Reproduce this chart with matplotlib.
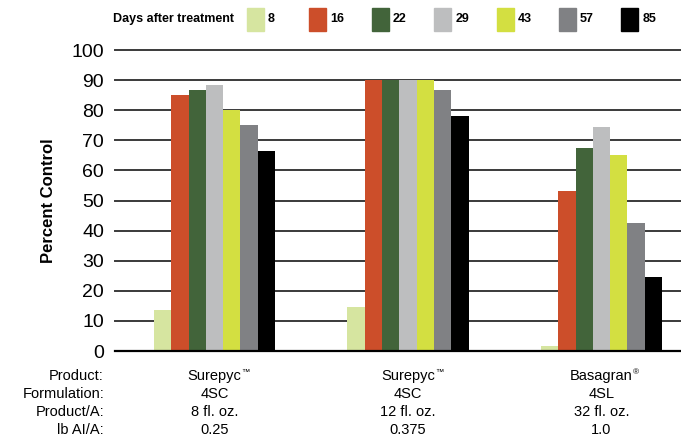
import numpy as np
import matplotlib.pyplot as plt
from matplotlib.patches import Rectangle

plt.rcParams['font.family'] = ['Liberation Sans', 'DejaVu Sans']

days = ['8', '16', '22', '29', '43', '57', '85']
colors = ['#d6e5a0', '#cc4e2a', '#42643a', '#bdbebf', '#d3df41', '#808184', '#000000']

products = ['Surepyc', 'Surepyc', 'Basagran']
marks = ['™', '™', '®']
formulation = ['4SC', '4SC', '4SL']
rate = ['8 fl. oz.', '12 fl. oz.', '32 fl. oz.']
lb_ai = ['0.25', '0.375', '1.0']

# percent control, one list per days-after-treatment
control = {
    '8':  [13.6, 14.6, 1.5],
    '16': [85, 90, 53],
    '22': [86.7, 90, 67.3],
    '29': [88.4, 90, 74.5],
    '43': [80, 90, 65],
    '57': [75.1, 86.7, 42.4],
    '85': [66.4, 78, 24.7],
}

fig = plt.figure(figsize=(6.81, 4.44), dpi=100)
ax = fig.add_axes([115 / 681, 93 / 444, 566 / 681, 301 / 444])

x = np.arange(len(products))
w = 0.0894
for i, d in enumerate(days):
    ax.bar(x + (i - 3) * w, control[d], width=w, color=colors[i], zorder=3)

ax.set_ylim(0, 100)
ax.set_xlim(-0.514, 2.411)
ax.set_yticks(range(0, 101, 10))
ax.tick_params(axis='y', length=0, pad=8, labelsize=14)
ax.set_xticks([])
for s in ax.spines.values():
    s.set_visible(False)
for v in range(10, 101, 10):
    ax.axhline(v, color='#3a3a3a', linewidth=1.4, zorder=1, clip_on=False)
ax.axhline(0, color='black', linewidth=1.6, zorder=4, clip_on=False)
ax.set_ylabel('Percent Control', fontsize=12, fontweight='bold', labelpad=11)

# legend row
fig.text(113 / 681, 1 - 19 / 444, 'Days after treatment', fontsize=9,
         fontweight='bold', va='center', ha='left')
for i, d in enumerate(days):
    x0 = (247 + i * 62.4) / 681
    fig.patches.append(Rectangle((x0, 1 - 31 / 444), 17 / 681, 23 / 444,
                                 transform=fig.transFigure, color=colors[i]))
    fig.text(x0 + 21 / 681, 1 - 19 / 444, d, fontsize=9, fontweight='bold',
             va='center', ha='left')

# table under the chart
rows = ['Product:', 'Formulation:', 'Product/A:', 'lb AI/A:']
ys = [376, 394, 412, 430]
for r, y in zip(rows, ys):
    fig.text(104 / 681, 1 - y / 444, r, fontsize=10.5, ha='right', va='center')
cols = [products, formulation, rate, lb_ai]
for j in range(len(products)):
    cx = ax.transData.transform((x[j], 0))[0] / 681
    for k, (c, y) in enumerate(zip(cols, ys)):
        t = fig.text(cx, 1 - y / 444, c[j], fontsize=10.5, ha='center', va='center')
        if k == 0:
            ax.annotate(marks[j], xy=(1, 1), xycoords=t, xytext=(0, 0),
                        textcoords='offset points', fontsize=6, va='top', ha='left')

fig.savefig('out.png', dpi=100)
